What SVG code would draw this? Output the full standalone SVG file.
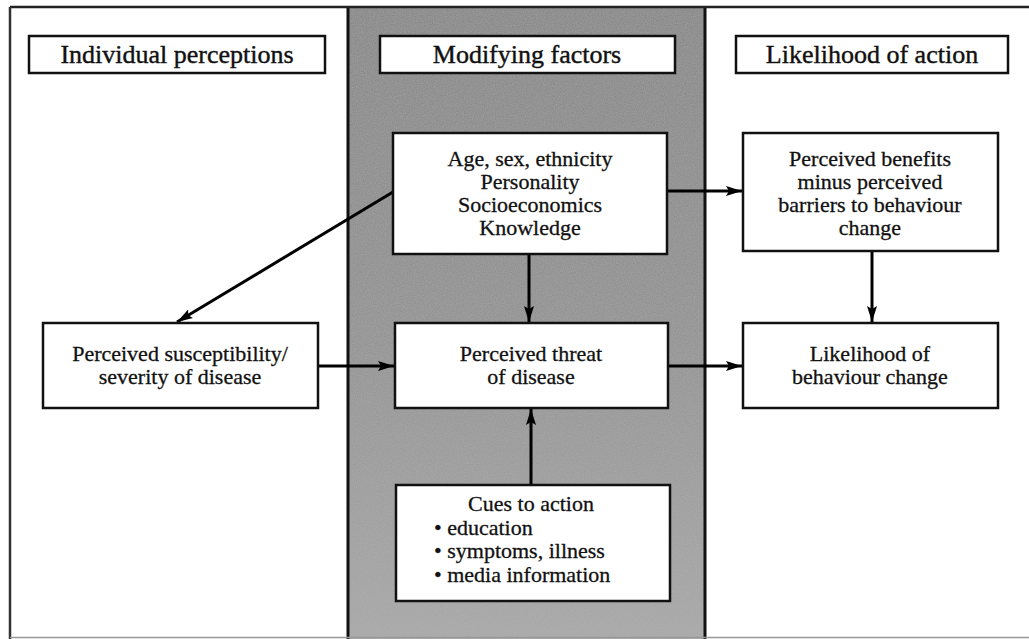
<svg xmlns="http://www.w3.org/2000/svg" width="1029" height="639" viewBox="0 0 1029 639">
<defs>
<linearGradient id="shade" x1="0" y1="0" x2="0" y2="1">
<stop offset="0" stop-color="#858585"/>
<stop offset="0.5" stop-color="#909090"/>
<stop offset="1" stop-color="#a8a8a8"/>
</linearGradient>
<filter id="grain" x="0" y="0" width="1" height="1">
<feTurbulence type="fractalNoise" baseFrequency="0.9" numOctaves="2" seed="3" result="n"/>
<feColorMatrix in="n" type="matrix" values="0 0 0 0 0.5  0 0 0 0 0.5  0 0 0 0 0.5  0 0 0 0.45 -0.05" result="g"/>
<feComposite in="g" in2="SourceGraphic" operator="atop"/>
</filter>
<marker id="arr" viewBox="0 0 16 10" refX="16" refY="5" markerWidth="16" markerHeight="10" markerUnits="userSpaceOnUse" orient="auto">
<path d="M0,0 L16,5 L0,10 L3,5 Z" fill="#000"/>
</marker>
<style>
.box{fill:#fff;stroke:#111;stroke-width:2.5}
.hdr{font-family:"Liberation Serif","Times New Roman",serif;font-size:26px;fill:#111;text-anchor:middle;stroke:#111;stroke-width:0.4}
.t{font-family:"Liberation Serif","Times New Roman",serif;font-size:22px;fill:#111;text-anchor:middle;stroke:#111;stroke-width:0.3}
.tl{font-family:"Liberation Serif","Times New Roman",serif;font-size:22px;fill:#111;stroke:#111;stroke-width:0.3}
.c{stroke:#000;stroke-width:3;fill:none;marker-end:url(#arr)}
</style>
</defs>
<rect width="1029" height="639" fill="#fff"/>
<g id="panels">
<rect x="348" y="7" width="357" height="640" fill="url(#shade)" filter="url(#grain)"/>
<line x1="348" y1="7" x2="348" y2="639" stroke="#111" stroke-width="3"/>
<line x1="705" y1="7" x2="705" y2="639" stroke="#111" stroke-width="3"/>
<line x1="10" y1="7" x2="1029" y2="7" stroke="#222" stroke-width="2.5"/>
<line x1="10" y1="7" x2="10" y2="639" stroke="#333" stroke-width="2.5"/>
<line x1="10" y1="637.5" x2="1029" y2="637.5" stroke="#999" stroke-width="1.5"/>
</g>
<g id="header-individual">
<rect class="box" x="29" y="36" width="296" height="37"/>
<text class="hdr" x="177" y="63">Individual perceptions</text>
</g>
<g id="header-modifying">
<rect class="box" x="380" y="36" width="295" height="37"/>
<text class="hdr" x="527" y="63">Modifying factors</text>
</g>
<g id="header-likelihood">
<rect class="box" x="736" y="36" width="272" height="37"/>
<text class="hdr" x="872" y="63">Likelihood of action</text>
</g>
<g id="connectors">
<line class="c" x1="393" y1="192" x2="177" y2="322"/>
<line class="c" x1="667" y1="191" x2="742" y2="191"/>
<line class="c" x1="529" y1="254" x2="529" y2="322"/>
<line class="c" x1="318" y1="366" x2="394" y2="366"/>
<line class="c" x1="668" y1="366" x2="742" y2="366"/>
<line class="c" x1="872" y1="251" x2="872" y2="322"/>
<line class="c" x1="531" y1="485" x2="531" y2="409"/>
</g>
<g id="node-demographics">
<rect class="box" x="393" y="133" width="274" height="121"/>
<text class="t" x="530" y="166">Age, sex, ethnicity</text>
<text class="t" x="530" y="189">Personality</text>
<text class="t" x="530" y="212">Socioeconomics</text>
<text class="t" x="530" y="235">Knowledge</text>
</g>
<g id="node-benefits">
<rect class="box" x="743" y="133" width="255" height="118"/>
<text class="t" x="870" y="166">Perceived benefits</text>
<text class="t" x="870" y="189">minus perceived</text>
<text class="t" x="870" y="212">barriers to behaviour</text>
<text class="t" x="870" y="235">change</text>
</g>
<g id="node-susceptibility">
<rect class="box" x="43" y="323" width="275" height="85"/>
<text class="t" x="180" y="361">Perceived susceptibility/</text>
<text class="t" x="180" y="384">severity of disease</text>
</g>
<g id="node-threat">
<rect class="box" x="395" y="323" width="273" height="85"/>
<text class="t" x="531" y="361">Perceived threat</text>
<text class="t" x="531" y="384">of disease</text>
</g>
<g id="node-likelihood">
<rect class="box" x="743" y="323" width="255" height="85"/>
<text class="t" x="870" y="361">Likelihood of</text>
<text class="t" x="870" y="384">behaviour change</text>
</g>
<g id="node-cues">
<rect class="box" x="396" y="485" width="274" height="116"/>
<text class="t" x="531" y="511">Cues to action</text>
<text class="tl" x="434" y="535">• education</text>
<text class="tl" x="434" y="558">• symptoms, illness</text>
<text class="tl" x="434" y="582">• media information</text>
</g>
</svg>
